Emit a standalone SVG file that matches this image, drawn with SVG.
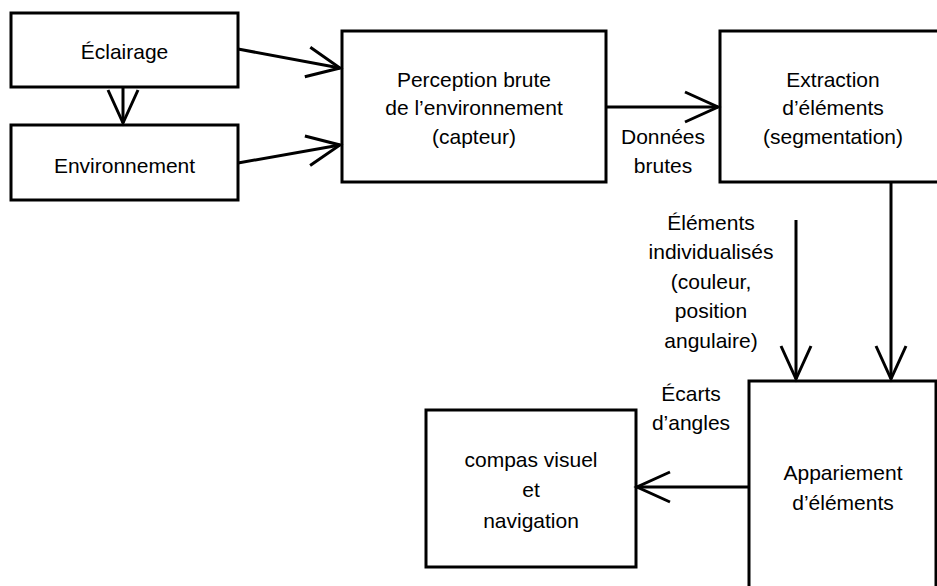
<svg xmlns="http://www.w3.org/2000/svg" width="937" height="586" viewBox="0 0 937 586">
  <style>
    .box { fill: #fff; stroke: #000; stroke-width: 3; }
    .t { font-family: "Liberation Sans", Arial, Helvetica, sans-serif; font-size: 21px; fill: #000; text-anchor: middle; }
    .c { fill: none; stroke: #000; stroke-width: 3; marker-end: url(#arr); }
  </style>
  <defs>
    <marker id="arr" markerUnits="userSpaceOnUse" markerWidth="40" markerHeight="40" refX="0" refY="0" orient="auto" overflow="visible">
      <path d="M-33,-15 L0,0 L-33,15" fill="none" stroke="#000" stroke-width="3"/>
    </marker>
  </defs>
  <rect width="937" height="586" fill="#fff"/>

  <g id="eclairage">
    <rect class="box" x="11" y="13" width="227" height="74"/>
    <text class="t" x="124.5" y="59">Éclairage</text>
  </g>
  <g id="environnement">
    <rect class="box" x="11" y="125" width="227" height="75"/>
    <text class="t" x="124.5" y="173">Environnement</text>
  </g>
  <g id="perception">
    <rect class="box" x="342" y="31" width="264" height="151"/>
    <text class="t" x="474" y="87">Perception brute</text>
    <text class="t" x="474" y="115">de l’environnement</text>
    <text class="t" x="474" y="144">(capteur)</text>
  </g>
  <g id="extraction">
    <rect class="box" x="720" y="31" width="230" height="151"/>
    <text class="t" x="833" y="87">Extraction</text>
    <text class="t" x="833" y="115">d’éléments</text>
    <text class="t" x="833" y="144">(segmentation)</text>
  </g>
  <g id="appariement">
    <rect class="box" x="749" y="381" width="187" height="230"/>
    <text class="t" x="843" y="480">Appariement</text>
    <text class="t" x="843" y="510">d’éléments</text>
  </g>
  <g id="compas">
    <rect class="box" x="426" y="410" width="210" height="157"/>
    <text class="t" x="531" y="467">compas visuel</text>
    <text class="t" x="531" y="497">et</text>
    <text class="t" x="531" y="528">navigation</text>
  </g>

  <g id="connectors">
    <path class="c" d="M238,49 L340,68"/>
    <path class="c" d="M238,163 L340,145"/>
    <path class="c" d="M123,87 L123,123"/>
    <path class="c" d="M606,107 L718,107"/>
    <path class="c" d="M891,182 L891,379"/>
    <path class="c" d="M796,220 L796,379"/>
    <path class="c" d="M749,487 L637,487"/>
  </g>

  <g id="labels">
    <text class="t" x="663" y="144">Données</text>
    <text class="t" x="663" y="173">brutes</text>
    <text class="t" x="711" y="230">Éléments</text>
    <text class="t" x="711" y="259">individualisés</text>
    <text class="t" x="711" y="289">(couleur,</text>
    <text class="t" x="711" y="318">position</text>
    <text class="t" x="711" y="348">angulaire)</text>
    <text class="t" x="691" y="401">Écarts</text>
    <text class="t" x="691" y="430">d’angles</text>
  </g>
</svg>
